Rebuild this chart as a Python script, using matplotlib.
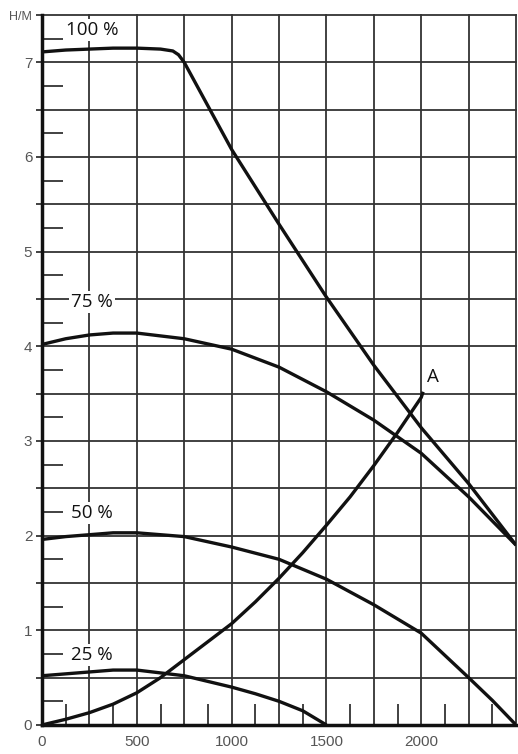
import matplotlib.pyplot as plt
import numpy as np

# curve data (flow vs head)
x100 = [0, 125, 250, 375, 500, 625, 690, 720, 750, 1000, 1250, 1500, 1750, 2000, 2250, 2500]
h100 = [7.11, 7.13, 7.14, 7.15, 7.15, 7.14, 7.12, 7.08, 7.00, 6.08, 5.29, 4.52, 3.80, 3.14, 2.55, 1.90]

x75 = [0, 125, 250, 375, 500, 750, 1000, 1250, 1500, 1750, 2000, 2250, 2500]
h75 = [4.02, 4.08, 4.12, 4.14, 4.14, 4.08, 3.97, 3.78, 3.52, 3.22, 2.87, 2.41, 1.90]

x50 = [0, 125, 250, 375, 500, 750, 1000, 1250, 1500, 1750, 2000, 2250, 2375, 2500]
h50 = [1.96, 1.99, 2.01, 2.03, 2.03, 1.99, 1.88, 1.75, 1.54, 1.27, 0.97, 0.50, 0.26, 0.0]

x25 = [0, 125, 250, 375, 500, 625, 750, 875, 1000, 1125, 1250, 1375, 1500]
h25 = [0.52, 0.54, 0.56, 0.58, 0.58, 0.55, 0.52, 0.46, 0.40, 0.33, 0.25, 0.15, 0.0]

xA = [0, 125, 250, 375, 500, 625, 750, 875, 1000, 1125, 1250, 1375, 1500,
      1625, 1750, 1875, 2000, 2010]
hA = [0.0, 0.06, 0.13, 0.22, 0.34, 0.50, 0.69, 0.88, 1.07, 1.30, 1.55, 1.82, 2.11,
      2.41, 2.74, 3.09, 3.46, 3.52]

curve_labels = ['100 %', '75 %', '50 %', '25 %']
label_y = [7.34, 4.47, 2.24, 0.74]

fig = plt.figure(figsize=(5.18, 7.54), dpi=100)
ax = fig.add_axes([0.0811, 0.0385, 0.9151, 0.9416])

for xs, hs in [(x100, h100), (x75, h75), (x50, h50), (x25, h25), (xA, hA)]:
    ax.plot(xs, hs, color='#111111', lw=2.4, solid_capstyle='butt',
            solid_joinstyle='round', zorder=3)

for lab, ly in zip(curve_labels, label_y):
    ax.text(263, ly, lab, fontsize=13.5, family='Open Sans', color='#111111',
            ha='center', va='center', zorder=4,
            bbox=dict(facecolor='white', edgecolor='none', pad=1.5))
ax.text(2063, 3.68, 'A', fontsize=13.5, family='Open Sans', color='#111111',
        ha='center', va='center', zorder=4)

ax.set_xlim(0, 2500)
ax.set_ylim(0, 7.5)

xt = np.arange(0, 2501, 250)
ax.set_xticks(xt)
ax.set_xticklabels([str(int(v)) if v % 500 == 0 and v < 2500 else '' for v in xt])
yt = np.arange(0, 7.51, 0.5)
ylab = [str(int(v)) if v % 1 == 0 else '' for v in yt]
ylab[-1] = 'H/M'
ax.set_yticks(yt)
ax.set_yticklabels(ylab)
ax.set_xticks(np.arange(125, 2500, 250), minor=True)
ax.set_yticks(np.arange(0.25, 7.5, 0.5), minor=True)

ax.tick_params(axis='x', which='major', length=0, pad=7)
ax.tick_params(axis='y', which='major', length=4, width=1.3, color='#333333', pad=3)
ax.tick_params(which='minor', direction='in', length=15, width=1.3, color='#333333')
for t in ax.get_xticklabels() + ax.get_yticklabels():
    t.set_family('Liberation Sans')
    t.set_fontsize(11)
    t.set_color('#555555')
ax.get_yticklabels()[-1].set_fontsize(9)

ax.grid(True, color='#333333', lw=1.3, zorder=1)
for g in ax.get_xgridlines() + ax.get_ygridlines():
    g.set_clip_on(False)
ax.set_axisbelow(True)

for s in ['top', 'right']:
    ax.spines[s].set_visible(False)
for s in ['left', 'bottom']:
    ax.spines[s].set_linewidth(2.5)
    ax.spines[s].set_color('#111111')

fig.savefig('out.png', dpi=100)
